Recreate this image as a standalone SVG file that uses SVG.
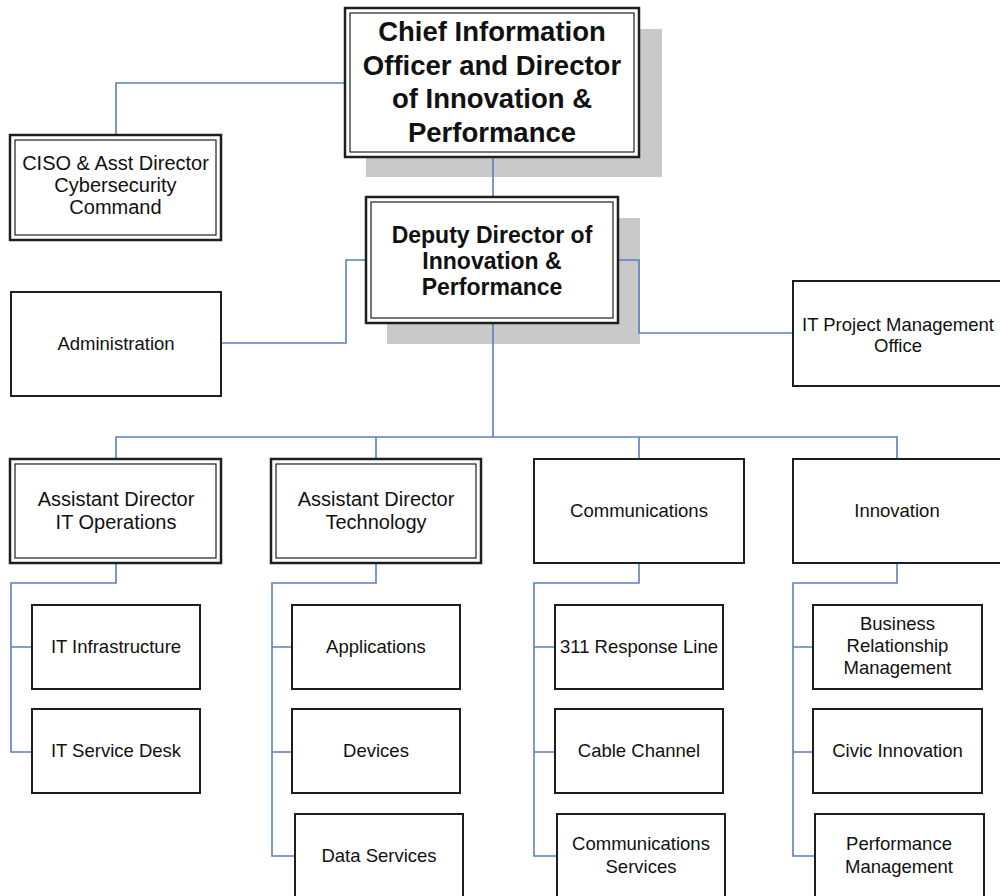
<svg xmlns="http://www.w3.org/2000/svg" width="1000" height="896" viewBox="0 0 1000 896">
<style>
.shadow{fill:#c9c9c9}
.box{fill:#fff;stroke:#1e1e1e;stroke-width:2}
.dbl-o{fill:#fff;stroke:#1e1e1e;stroke-width:2.5}
.dbl-i{fill:none;stroke:#1e1e1e;stroke-width:1.2}
.conn{fill:none;stroke:#5b7fc0;stroke-width:1.6}
text{font-family:"Liberation Sans",Arial,sans-serif;fill:#111;text-anchor:middle}
.t{font-size:18.5px}
.t2{font-size:20px}
.tb{font-size:27.5px;font-weight:bold}
.tm{font-size:23px;font-weight:bold}
</style>
<rect width="1000" height="896" fill="#fff"/>
<g id="shadows">
<rect class="shadow" x="366" y="29" width="296" height="148"/>
<rect class="shadow" x="387" y="218" width="253" height="126"/>
</g>
<g id="connectors">
<path class="conn" d="M493 157V197"/>
<path class="conn" d="M116 135V83H345"/>
<path class="conn" d="M221 343H346V260H366"/>
<path class="conn" d="M618 260H639V333H793"/>
<path class="conn" d="M493 323V437"/>
<path class="conn" d="M116 459V437H897V459"/>
<path class="conn" d="M376 437V459"/>
<path class="conn" d="M639 437V459"/>
<path class="conn" d="M116 563V583H11V752H32M11 647H32"/>
<path class="conn" d="M376 563V583H272V856H295M272 647H292M272 752H292"/>
<path class="conn" d="M639 563V583H534V856H557M534 647H555M534 752H555"/>
<path class="conn" d="M897 563V583H793V856H815M793 647H813M793 752H813"/>
</g>
<g id="cio">
<rect class="dbl-o" x="345" y="8" width="294" height="149"/>
<rect class="dbl-i" x="350" y="13" width="284" height="139"/>
<text class="tb" x="492" y="41">Chief Information</text>
<text class="tb" x="492" y="74.5">Officer and Director</text>
<text class="tb" x="492" y="108">of Innovation &amp;</text>
<text class="tb" x="492" y="141.5">Performance</text>
</g>
<g id="ciso">
<rect class="dbl-o" x="10" y="135" width="211" height="105"/>
<rect class="dbl-i" x="15" y="140" width="201" height="95"/>
<text class="t2" x="115.5" y="170">CISO &amp; Asst Director</text>
<text class="t2" x="115.5" y="192">Cybersecurity</text>
<text class="t2" x="115.5" y="214">Command</text>
</g>
<g id="deputy">
<rect class="dbl-o" x="366" y="197" width="252" height="126"/>
<rect class="dbl-i" x="371" y="202" width="242" height="116"/>
<text class="tm" x="492" y="243">Deputy Director of</text>
<text class="tm" x="492" y="269">Innovation &amp;</text>
<text class="tm" x="492" y="295">Performance</text>
</g>
<g id="administration">
<rect class="box" x="11" y="292" width="210" height="104"/>
<text class="t" x="116" y="350">Administration</text>
</g>
<g id="itpmo">
<rect class="box" x="793" y="281" width="215" height="105"/>
<text class="t" x="898" y="331">IT Project Management</text>
<text class="t" x="898" y="352">Office</text>
</g>
<g id="ad-itops">
<rect class="dbl-o" x="10" y="459" width="211" height="104"/>
<rect class="dbl-i" x="15" y="464" width="201" height="94"/>
<text class="t2" x="116" y="506">Assistant Director</text>
<text class="t2" x="116" y="529">IT Operations</text>
</g>
<g id="ad-tech">
<rect class="dbl-o" x="271" y="459" width="210" height="104"/>
<rect class="dbl-i" x="276" y="464" width="200" height="94"/>
<text class="t2" x="376" y="506">Assistant Director</text>
<text class="t2" x="376" y="529">Technology</text>
</g>
<g id="communications">
<rect class="box" x="534" y="459" width="210" height="104"/>
<text class="t" x="639" y="517">Communications</text>
</g>
<g id="innovation">
<rect class="box" x="793" y="459" width="215" height="104"/>
<text class="t" x="897" y="517">Innovation</text>
</g>
<g id="it-infra">
<rect class="box" x="32" y="605" width="168" height="84"/>
<text class="t" x="116" y="653">IT Infrastructure</text>
</g>
<g id="it-servicedesk">
<rect class="box" x="32" y="709" width="168" height="84"/>
<text class="t" x="116" y="757">IT Service Desk</text>
</g>
<g id="applications">
<rect class="box" x="292" y="605" width="168" height="84"/>
<text class="t" x="376" y="653">Applications</text>
</g>
<g id="devices">
<rect class="box" x="292" y="709" width="168" height="84"/>
<text class="t" x="376" y="757">Devices</text>
</g>
<g id="data-services">
<rect class="box" x="295" y="814" width="168" height="90"/>
<text class="t" x="379" y="862">Data Services</text>
</g>
<g id="response-311">
<rect class="box" x="555" y="605" width="168" height="84"/>
<text class="t" x="639" y="653">311 Response Line</text>
</g>
<g id="cable-channel">
<rect class="box" x="555" y="709" width="168" height="84"/>
<text class="t" x="639" y="757">Cable Channel</text>
</g>
<g id="comm-services">
<rect class="box" x="557" y="814" width="168" height="90"/>
<text class="t" x="641" y="850">Communications</text>
<text class="t" x="641" y="873">Services</text>
</g>
<g id="brm">
<rect class="box" x="813" y="605" width="169" height="84"/>
<text class="t" x="897.5" y="630">Business</text>
<text class="t" x="897.5" y="652">Relationship</text>
<text class="t" x="897.5" y="674">Management</text>
</g>
<g id="civic-innovation">
<rect class="box" x="813" y="709" width="169" height="84"/>
<text class="t" x="897.5" y="757">Civic Innovation</text>
</g>
<g id="performance-mgmt">
<rect class="box" x="815" y="814" width="169" height="90"/>
<text class="t" x="899" y="850">Performance</text>
<text class="t" x="899" y="873">Management</text>
</g>
</svg>
